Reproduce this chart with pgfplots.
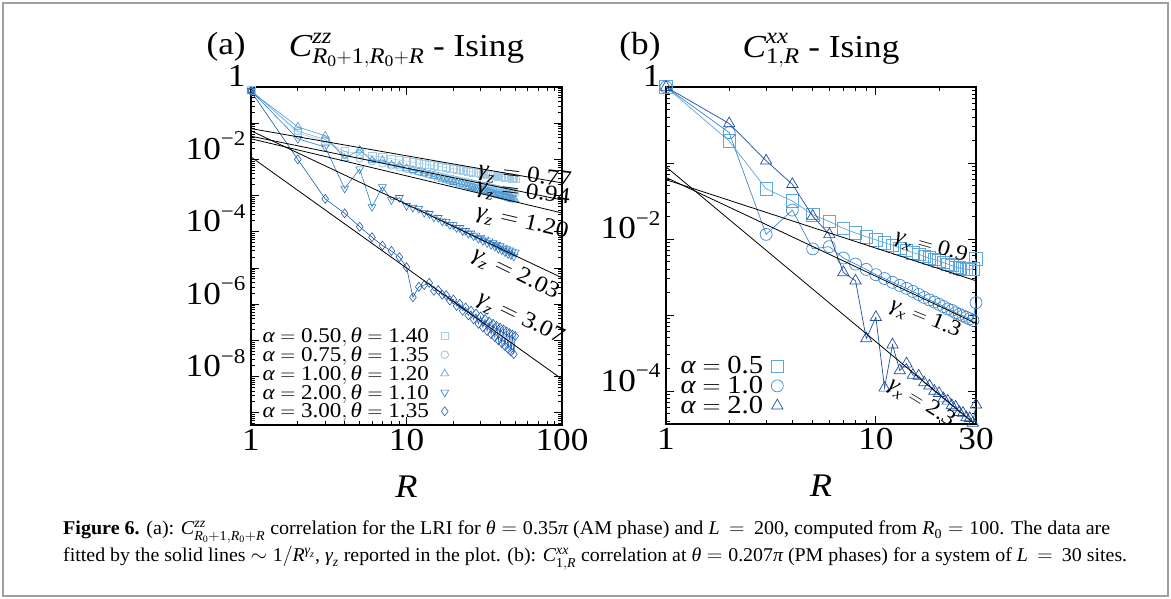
\documentclass[border=0pt]{standalone}
\usepackage{amsmath}
\usepackage{fontspec}
\setmainfont{Liberation Serif}[FakeStretch=1.1]
\newfontfamily\capfont{Liberation Serif}
\usepackage{graphicx}
\usepackage{pgfplots}
\pgfplotsset{compat=1.18}
\newcommand\ti[1]{\text{\itshape #1}}
\newcommand\up[1]{\text{#1}}
\newcommand\fs[1]{\fontsize{#1}{#1}\selectfont}
\newcommand\tl[1]{10\raisebox{0.42em}{\fs{21pt}−#1}}
\definecolor{ca1}{HTML}{A6CDE8}
\definecolor{ca2}{HTML}{7AB6DE}
\definecolor{ca3}{HTML}{4A98D2}
\definecolor{ca4}{HTML}{2C78C4}
\definecolor{ca5}{HTML}{1F5AAE}
\definecolor{cb1}{HTML}{5FA6DB}
\definecolor{cb2}{HTML}{3C88CE}
\definecolor{cb3}{HTML}{1B4F9E}
\pgfplotsset{fitl/.style={black, line width=0.8pt, forget plot}}
\begin{document}
\begin{tikzpicture}[x=1pt,y=1pt]
\useasboundingbox (0,0) rectangle (1171,599);
\draw[gray!75, line width=1.2pt] (3,3) rectangle (1168,596);
% ---------------- panel (a)
\begin{axis}[scale only axis, xmode=log, ymode=log, clip mode=individual,
  axis line style={line width=1.4pt}, tick style={line width=0.8pt, black},
  major tick length=8pt, minor tick length=4pt,
  xticklabel style={font=\fs{32pt}, yshift=-1pt},
  yticklabel style={font=\fs{32pt}, anchor=base east, xshift=-2pt},
  legend plot pos=right,
  legend image code/.code={\draw[mark repeat=2,mark phase=2,#1,only marks] plot coordinates {(0pt,0pt) (10pt,0pt) (20pt,0pt)};},
  at={(251pt,174pt)}, anchor=south west, width=311pt, height=338pt,
  xmin=1, xmax=100, ymin=4.6e-10, ymax=1,
  xtick={1,10,100}, xticklabels={1,10,100},
  minor xtick={2,3,4,5,6,7,8,9,20,30,40,50,60,70,80,90},
  ytick={1e-9,1e-8,1e-7,1e-6,1e-5,1e-4,1e-3,1e-2,1e-1,1},
  yticklabels={,\tl{8},,\tl{6},,\tl{4},,\tl{2},,1},
  minor ytick={2e-10,3e-10,4e-10,5e-10,6e-10,7e-10,8e-10,9e-10,2e-9,3e-9,4e-9,5e-9,6e-9,7e-9,8e-9,9e-9,2e-8,3e-8,4e-8,5e-8,6e-8,7e-8,8e-8,9e-8,2e-7,3e-7,4e-7,5e-7,6e-7,7e-7,8e-7,9e-7,2e-6,3e-6,4e-6,5e-6,6e-6,7e-6,8e-6,9e-6,2e-5,3e-5,4e-5,5e-5,6e-5,7e-5,8e-5,9e-5,2e-4,3e-4,4e-4,5e-4,6e-4,7e-4,8e-4,9e-4,2e-3,3e-3,4e-3,5e-3,6e-3,7e-3,8e-3,9e-3,0.02,0.03,0.04,0.05,0.06,0.07,0.08,0.09,0.2,0.3,0.4,0.5,0.6,0.7,0.8,0.9},
  legend style={draw=none, fill=none, font=\fs{21pt}, at={(0.03,0.01)}, anchor=south west, inner sep=0pt, row sep=-1.3pt, column sep=10pt, legend cell align=left},
]
\addplot[color=ca1, line width=0.6pt, mark=square, mark size=3.8pt, mark options={line width=0.6pt}] coordinates {(1,0.83)(2,5.37e-2)(3,3.16e-2)(4,1.66e-2)(5,1.45e-2)(6,1.26e-2)(7,1.15e-2)(8,1.05e-2)(9,9.55e-3)(10,8.91e-3)(11,8.32e-3)(12,7.76e-3)(13,7.41e-3)(14,7.08e-3)(15,6.76e-3)(16,6.46e-3)(17,6.17e-3)(18,5.89e-3)(19,5.75e-3)(20,5.50e-3)(21,5.37e-3)(22,5.13e-3)(23,5.01e-3)(24,4.90e-3)(25,4.68e-3)(26,4.57e-3)(27,4.47e-3)(28,4.37e-3)(29,4.27e-3)(30,4.17e-3)(31,4.07e-3)(32,3.98e-3)(33,3.89e-3)(34,3.80e-3)(35,3.72e-3)(36,3.68e-3)(37,3.63e-3)(38,3.55e-3)(39,3.47e-3)(40,3.39e-3)(41,3.37e-3)(42,3.31e-3)(43,3.24e-3)(44,3.22e-3)(45,3.16e-3)(46,3.09e-3)(47,3.07e-3)(48,3.02e-3)(49,2.95e-3)(50,2.93e-3)};
\addlegendentry{$\ti{α} = \up{0.50}, \ti{θ} = \up{1.40}$}
\addplot[color=ca2, line width=0.6pt, mark=o, mark size=3.8pt, mark options={line width=0.6pt}] coordinates {(1,0.79)(2,6.03e-2)(3,3.55e-2)(4,1.32e-2)(5,1.07e-2)(6,8.91e-3)(7,7.76e-3)(8,6.76e-3)(9,6.03e-3)(10,5.50e-3)(11,5.01e-3)(12,4.57e-3)(13,4.27e-3)(14,3.98e-3)(15,3.72e-3)(16,3.47e-3)(17,3.31e-3)(18,3.09e-3)(19,2.95e-3)(20,2.82e-3)(21,2.69e-3)(22,2.57e-3)(23,2.45e-3)(24,2.34e-3)(25,2.29e-3)(26,2.19e-3)(27,2.14e-3)(28,2.04e-3)(29,2.00e-3)(30,1.91e-3)(31,1.86e-3)(32,1.78e-3)(33,1.74e-3)(34,1.70e-3)(35,1.66e-3)(36,1.62e-3)(37,1.55e-3)(38,1.51e-3)(39,1.48e-3)(40,1.45e-3)(41,1.41e-3)(42,1.38e-3)(43,1.35e-3)(44,1.32e-3)(45,1.29e-3)(46,1.26e-3)(47,1.23e-3)(48,1.21e-3)(49,1.20e-3)(50,1.17e-3)};
\addlegendentry{$\ti{α} = \up{0.75}, \ti{θ} = \up{1.35}$}
\addplot[color=ca3, line width=0.6pt, mark=triangle, mark size=4.5pt, mark options={line width=0.6pt}] coordinates {(1,0.76)(2,7.94e-2)(3,4.47e-2)(4,1.07e-2)(5,1.82e-2)(6,9.33e-3)(7,9.55e-3)(8,7.08e-3)(9,6.61e-3)(10,5.62e-3)(11,5.01e-3)(12,4.47e-3)(13,4.07e-3)(14,3.72e-3)(15,3.39e-3)(16,3.09e-3)(17,2.88e-3)(18,2.69e-3)(19,2.51e-3)(20,2.34e-3)(21,2.24e-3)(22,2.09e-3)(23,2.00e-3)(24,1.86e-3)(25,1.78e-3)(26,1.70e-3)(27,1.62e-3)(28,1.55e-3)(29,1.48e-3)(30,1.41e-3)(31,1.38e-3)(32,1.32e-3)(33,1.26e-3)(34,1.23e-3)(35,1.17e-3)(36,1.12e-3)(37,1.10e-3)(38,1.05e-3)(39,1.02e-3)(40,1.00e-3)(41,9.55e-4)(42,9.33e-4)(43,9.12e-4)(44,8.91e-4)(45,8.51e-4)(46,8.32e-4)(47,8.13e-4)(48,7.94e-4)(49,7.76e-4)(50,7.59e-4)};
\addlegendentry{$\ti{α} = \up{1.00}, \ti{θ} = \up{1.20}$}
\addplot[color=ca4, line width=0.6pt, mark=triangle, mark size=4.5pt, mark options={line width=0.6pt, rotate=180}] coordinates {(1,0.79)(2,3.72e-2)(3,2.19e-2)(4,1.58e-3)(5,5.37e-3)(6,4.90e-4)(7,1.74e-3)(8,7.59e-4)(9,8.71e-4)(10,5.25e-4)(11,4.68e-4)(12,4.37e-4)(13,3.39e-4)(14,3.16e-4)(15,2.51e-4)(16,2.45e-4)(17,1.95e-4)(18,1.91e-4)(19,1.55e-4)(20,1.55e-4)(21,1.29e-4)(22,1.29e-4)(23,1.05e-4)(24,1.07e-4)(25,8.91e-5)(26,9.12e-5)(27,7.59e-5)(28,7.94e-5)(29,6.46e-5)(30,6.92e-5)(31,5.62e-5)(32,6.17e-5)(33,4.90e-5)(34,5.50e-5)(35,4.37e-5)(36,4.90e-5)(37,3.89e-5)(38,4.47e-5)(39,3.39e-5)(40,4.07e-5)(41,3.09e-5)(42,3.72e-5)(43,2.75e-5)(44,3.39e-5)(45,2.45e-5)(46,3.09e-5)(47,2.29e-5)(48,2.88e-5)(49,2.09e-5)(50,2.69e-5)};
\addlegendentry{$\ti{α} = \up{2.00}, \ti{θ} = \up{1.10}$}
\addplot[color=ca5, line width=0.6pt, mark=diamond, mark size=4.5pt, mark options={line width=0.6pt}] coordinates {(1,0.76)(2,1.0e-2)(3,8.13e-4)(4,3.24e-4)(5,1.38e-4)(6,7.08e-5)(7,4.17e-5)(8,2.95e-5)(9,2.0e-5)(10,1.05e-5)(11,1.55e-6)(12,3.02e-6)(13,3.39e-6)(14,3.89e-6)(15,2.34e-6)(16,2.45e-6)(17,1.82e-6)(18,1.78e-6)(19,1.26e-6)(20,1.35e-6)(21,8.91e-7)(22,1.02e-6)(23,6.61e-7)(24,8.13e-7)(25,4.90e-7)(26,6.61e-7)(27,3.80e-7)(28,5.50e-7)(29,2.88e-7)(30,4.57e-7)(31,2.29e-7)(32,3.89e-7)(33,1.82e-7)(34,3.31e-7)(35,1.48e-7)(36,2.88e-7)(37,1.23e-7)(38,2.51e-7)(39,1.00e-7)(40,2.24e-7)(41,8.32e-8)(42,2.0e-7)(43,6.92e-8)(44,1.78e-7)(45,5.75e-8)(46,1.58e-7)(47,4.90e-8)(48,1.45e-7)(49,4.17e-8)(50,1.32e-7)};
\addlegendentry{$\ti{α} = \up{3.00}, \ti{θ} = \up{1.35}$}
\addplot[fitl] coordinates {(1,7.08e-2)(100,2.24e-3)};
\addplot[fitl] coordinates {(1,4.37e-2)(100,7.59e-4)};
\addplot[fitl] coordinates {(1,3.72e-2)(100,3.31e-4)};
\addplot[fitl] coordinates {(1,6.17e-2)(100,5.37e-6)};
\addplot[fitl] coordinates {(1,1.17e-2)(100,8.51e-9)};
\node[rotate=-7, font=\fs{23pt}] at (rel axis cs:0.88,0.734) {$\ti{γ}_{\ti{z}} = \up{0.77}$};
\node[rotate=-7, font=\fs{23pt}] at (rel axis cs:0.876,0.686) {$\ti{γ}_{\ti{z}} = \up{0.94}$};
\node[rotate=-13, font=\fs{23pt}] at (rel axis cs:0.872,0.598) {$\ti{γ}_{\ti{z}} = \up{1.20}$};
\node[rotate=-26, font=\fs{23pt}] at (rel axis cs:0.85,0.445) {$\ti{γ}_{\ti{z}} = \up{2.03}$};
\node[rotate=-26, font=\fs{23pt}] at (rel axis cs:0.866,0.314) {$\ti{γ}_{\ti{z}} = \up{3.07}$};
\node[anchor=base, font=\fs{32pt}] at (rel axis cs:0.5,1.089) {$\ti{C}^{\ti{zz}}_{\ti{R}_{\up{0}}+\up{1},\ti{R}_{\up{0}}+\ti{R}}$ - Ising};
\node[anchor=base, font=\fs{32pt}] at (rel axis cs:-0.08,1.095) {(a)};
\node[anchor=base, font=\fs{33pt}] at (rel axis cs:0.5,-0.215) {\itshape R};
\end{axis}
% ---------------- panel (b)
\begin{axis}[scale only axis, xmode=log, ymode=log, clip mode=individual,
  axis line style={line width=1.4pt}, tick style={line width=0.8pt, black},
  major tick length=8pt, minor tick length=4pt,
  xticklabel style={font=\fs{32pt}, yshift=-1pt},
  yticklabel style={font=\fs{32pt}, anchor=base east, xshift=-2pt},
  legend plot pos=right,
  legend image code/.code={\draw[mark repeat=2,mark phase=2,#1,only marks] plot coordinates {(0pt,0pt) (12pt,0pt) (24pt,0pt)};},
  at={(666pt,175pt)}, anchor=south west, width=310pt, height=337pt,
  xmin=1, xmax=30, ymin=3.68e-5, ymax=1,
  xtick={1,10,30}, xticklabels={1,10,30},
  minor xtick={2,3,4,5,6,7,8,9,20},
  ytick={1e-4,1e-3,1e-2,1e-1,1},
  yticklabels={\tl{4},,\tl{2},,1},
  minor ytick={4e-5,5e-5,6e-5,7e-5,8e-5,9e-5,2e-4,3e-4,4e-4,5e-4,6e-4,7e-4,8e-4,9e-4,2e-3,3e-3,4e-3,5e-3,6e-3,7e-3,8e-3,9e-3,0.02,0.03,0.04,0.05,0.06,0.07,0.08,0.09,0.2,0.3,0.4,0.5,0.6,0.7,0.8,0.9},
  legend style={draw=none, fill=none, font=\fs{26pt}, at={(0.04,0.02)}, anchor=south west, inner sep=0pt, row sep=-3pt, column sep=6pt, legend cell align=left},
]
\addplot[color=cb1, line width=0.7pt, mark=square, mark size=6.2pt, mark options={line width=0.7pt}] coordinates {(1,1)(2,0.195)(3,4.57e-2)(4,3.16e-2)(5,2.09e-2)(6,1.70e-2)(7,1.38e-2)(8,1.20e-2)(9,1.07e-2)(10,9.77e-3)(11,8.91e-3)(12,8.32e-3)(13,7.59e-3)(14,7.08e-3)(15,6.61e-3)(16,6.31e-3)(17,5.89e-3)(18,5.62e-3)(19,5.37e-3)(20,5.13e-3)(21,4.90e-3)(22,4.68e-3)(23,4.47e-3)(24,4.27e-3)(25,4.17e-3)(26,4.07e-3)(27,3.98e-3)(28,3.98e-3)(29,4.07e-3)(30,5.50e-3)};
\addlegendentry{$\ti{α} = \up{0.5}$}
\addplot[color=cb2, line width=0.7pt, mark=o, mark size=6pt, mark options={line width=0.7pt}] coordinates {(1,1)(2,0.251)(3,1.15e-2)(4,2.40e-2)(5,7.41e-3)(6,7.94e-3)(7,5.62e-3)(8,4.68e-3)(9,3.98e-3)(10,3.39e-3)(11,3.02e-3)(12,2.69e-3)(13,2.45e-3)(14,2.24e-3)(15,2.04e-3)(16,1.86e-3)(17,1.70e-3)(18,1.58e-3)(19,1.48e-3)(20,1.38e-3)(21,1.29e-3)(22,1.20e-3)(23,1.15e-3)(24,1.07e-3)(25,1.02e-3)(26,9.77e-4)(27,9.33e-4)(28,8.91e-4)(29,8.51e-4)(30,1.45e-3)};
\addlegendentry{$\ti{α} = \up{1.0}$}
\addplot[color=cb3, line width=0.7pt, mark=triangle, mark size=6.5pt, mark options={line width=0.7pt}] coordinates {(1,1)(2,0.331)(3,0.107)(4,5.25e-2)(5,2.0e-2)(6,1.15e-2)(7,3.63e-3)(8,2.82e-3)(9,4.90e-4)(10,9.33e-4)(11,1.10e-4)(12,4.07e-4)(13,1.86e-4)(14,2.29e-4)(15,1.62e-4)(16,1.58e-4)(17,1.29e-4)(18,1.17e-4)(19,1.0e-4)(20,9.33e-5)(21,7.94e-5)(22,7.41e-5)(23,6.46e-5)(24,6.17e-5)(25,5.25e-5)(26,5.13e-5)(27,4.47e-5)(28,4.37e-5)(29,3.80e-5)(30,6.61e-5)};
\addlegendentry{$\ti{α} = \up{2.0}$}
\addplot[fitl] coordinates {(1,6.03e-2)(30,2.82e-3)};
\addplot[fitl] coordinates {(1,6.46e-2)(30,7.76e-4)};
\addplot[fitl] coordinates {(1,8.91e-2)(30,3.55e-5)};
\node[rotate=-16, font=\fs{22pt}] at (rel axis cs:0.855,0.525) {$\ti{γ}_{\ti{x}} = \up{0.9}$};
\node[rotate=-22, font=\fs{22pt}] at (rel axis cs:0.836,0.312) {$\ti{γ}_{\ti{x}} = \up{1.3}$};
\node[rotate=-32, font=\fs{22pt}] at (rel axis cs:0.823,0.062) {$\ti{γ}_{\ti{x}} = \up{2.3}$};
\node[anchor=base, font=\fs{32pt}] at (rel axis cs:0.5,1.089) {$\ti{C}^{\ti{xx}}_{\up{1},\ti{R}}$ - Ising};
\node[anchor=base, font=\fs{32pt}] at (rel axis cs:-0.084,1.095) {(b)};
\node[anchor=base, font=\fs{33pt}] at (rel axis cs:0.5,-0.215) {\itshape R};
\end{axis}
% ---------------- caption
\node[anchor=base west, inner sep=0pt, font=\capfont\fs{19.5pt}] at (63,64) {\resizebox{1047pt}{\height}{{\bfseries Figure 6.} (a): $\ti{C}^{\ti{zz}}_{\ti{R}_{\up{0}}+\up{1},\ti{R}_{\up{0}}+\ti{R}}$ correlation for the LRI for $\ti{θ} = \up{0.35}\ti{π}$ (AM phase) and $\ti{L} \,=\, \up{200}$, computed from $\ti{R}_{\up{0}} = \up{100}$. The data are}};
\node[anchor=base west, inner sep=0pt, font=\capfont\fs{19.5pt}] at (63,37) {\resizebox{1064pt}{\height}{fitted by the solid lines $\sim\up{1}/\ti{R}^{\ti{γ}_{\ti{z}}}$, $\ti{γ}_{\ti{z}}$ reported in the plot. (b): $\ti{C}^{\ti{xx}}_{\up{1},\ti{R}}$ correlation at $\ti{θ} = \up{0.207}\ti{π}$ (PM phases) for a system of $\ti{L} \,=\, \up{30}$ sites.}};
\end{tikzpicture}
\end{document}
